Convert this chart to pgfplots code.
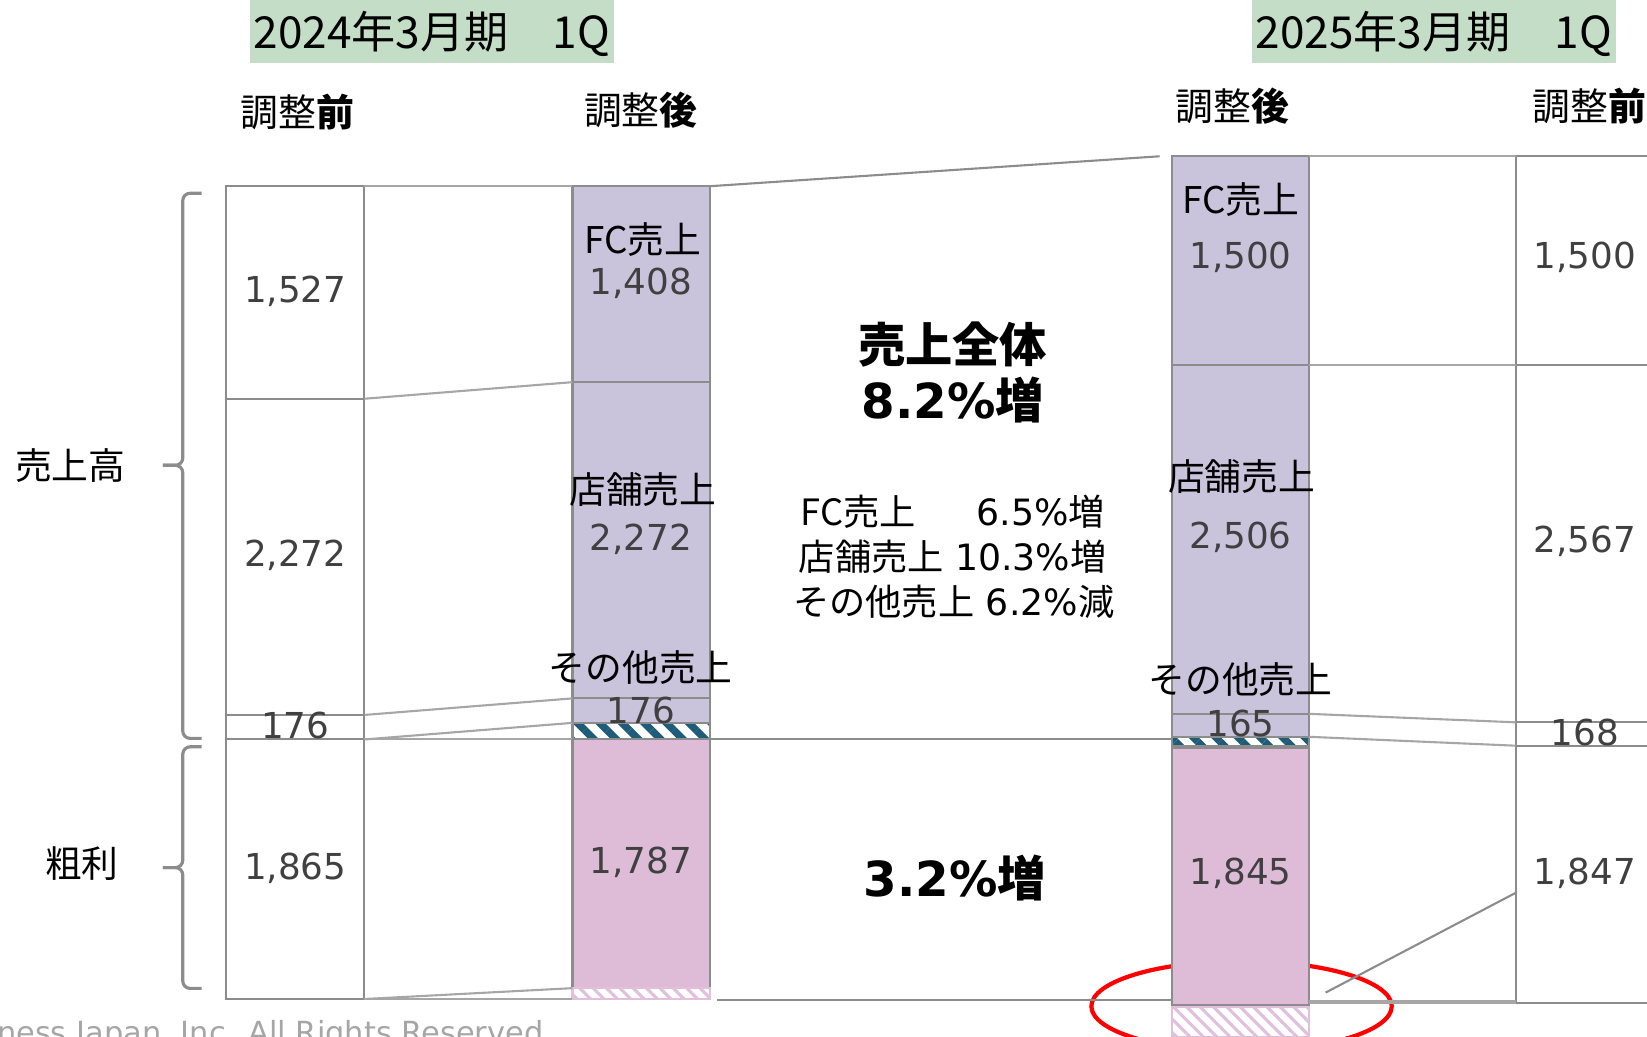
\documentclass[border=0pt]{standalone}
\usepackage{pgfplots}
\pgfplotsset{compat=1.18}
\usetikzlibrary{patterns.meta}
\usepackage{fontspec}
\setmainfont{DejaVu Sans}
\newfontfamily\jp{Noto Sans CJK JP}
\definecolor{lav}{HTML}{C9C3DB}
\definecolor{pnk}{HTML}{DEBCD7}
\definecolor{hdr}{HTML}{C4DDC6}
\definecolor{bord}{HTML}{8C8C8C}
\definecolor{conn}{HTML}{A6A6A6}
\definecolor{numc}{HTML}{404040}
\definecolor{hblue}{HTML}{1F5C7A}
\definecolor{hpink}{HTML}{E0C0DA}

% y axis: 0 = bottom edge of the picture; the sales/gross-profit baseline of 2024 lies at 2136
\pgfplotsset{
  base/.style={scale only axis, width=1568pt, height=987pt, xmin=0, xmax=1568,
    ymin=0, ymax=7449, hide axis, at={(0pt,0pt)}, anchor=south west, clip=true},
  layer/.style={base, ybar stacked, bar width=131},
  seg/.style={draw=bord, line width=2pt, fill=#1},
  nobar/.style={draw=none, fill=none},
  hb/.style={draw=bord, line width=2pt, pattern={Lines[angle=-45,distance=15pt,line width=7pt]}, pattern color=hblue},
  hp/.style={draw=hpink, line width=2pt, pattern={Lines[angle=-45,distance=9pt,line width=3pt]}, pattern color=hpink},
  cn/.style={conn, line width=2pt},
}
\newcommand\num[1]{{\fontsize{34}{40}\selectfont\color{numc}#1}}
\newcommand\lbl[1]{{\jp\fontsize{35}{40}\selectfont #1}}

\begin{document}
\begin{tikzpicture}
\useasboundingbox (0,0) rectangle (1568pt,987pt);
\clip (0,0) rectangle (1568pt,987pt);

\begin{scope}[x=1pt,y=-1pt,shift={(0pt,987pt)}]
\draw[red, line width=4pt] (1182,958) ellipse [x radius=143, y radius=43];
\end{scope}

% 2024 before adjustment (gross profit 1865, then sales 176 / 2272 / 1527)
\begin{axis}[layer]
\addplot[nobar] coordinates {(281,271)};
\addplot[seg=white] coordinates {(281,1865)};
\addplot[seg=white] coordinates {(281,176)};
\addplot[seg=white] coordinates {(281,2272)};
\addplot[seg=white] coordinates {(281,1527)};
\end{axis}

% 2024 after adjustment
\begin{axis}[layer]
\addplot[nobar] coordinates {(610.5,271)};
\addplot[hp] coordinates {(610.5,78)};
\addplot[seg=pnk] coordinates {(610.5,1787)};
\addplot[hb] coordinates {(610.5,119)};
\addplot[seg=lav] coordinates {(610.5,176)};
\addplot[seg=lav] coordinates {(610.5,2272)};
\addplot[seg=lav] coordinates {(610.5,1408)};
\end{axis}

% 2025 after adjustment
\begin{axis}[layer]
\addplot[hp] coordinates {(1181,211)};
\addplot[nobar] coordinates {(1181,20)};
\addplot[seg=pnk] coordinates {(1181,1845)};
\addplot[nobar] coordinates {(1181,15)};
\addplot[hb] coordinates {(1181,64)};
\addplot[seg=lav] coordinates {(1181,165)};
\addplot[seg=lav] coordinates {(1181,2506)};
\addplot[seg=lav] coordinates {(1181,1500)};
\end{axis}

% 2025 before adjustment
\begin{axis}[layer]
\addplot[nobar] coordinates {(1509,244)};
\addplot[seg=white] coordinates {(1509,1847)};
\addplot[seg=white] coordinates {(1509,168)};
\addplot[seg=white] coordinates {(1509,2567)};
\addplot[seg=white] coordinates {(1509,1500)};
\end{axis}

% connectors
\begin{axis}[base]
\addplot[cn] coordinates {(347,6111) (545,6111)};
\addplot[cn] coordinates {(347,4584) (545,4703)};
\addplot[cn] coordinates {(347,2312) (545,2431)};
\addplot[cn] coordinates {(347,2136) (545,2255)};
\addplot[cn] coordinates {(347,2136) (545,2136)};
\addplot[cn, color=bord] coordinates {(676,6111) (1104,6326)};
\addplot[cn, color=bord] coordinates {(676,2136) (1116,2136)};
\addplot[cn] coordinates {(1246,6326) (1443,6326)};
\addplot[cn] coordinates {(1246,4826) (1443,4826)};
\addplot[cn] coordinates {(1246,2320) (1443,2259)};
\addplot[cn] coordinates {(1246,2155) (1443,2091)};
\addplot[cn] coordinates {(347,271) (545,349)};
\addplot[cn] coordinates {(347,271) (545,271)};
\addplot[cn, color=bord] coordinates {(683,264) (1116,264)};
\addplot[cn] coordinates {(1246,257) (1443,257)};
\addplot[cn] coordinates {(1246,242) (1443,242)};
\addplot[cn, color=bord] coordinates {(1262,317) (1443,1034)};
\end{axis}

\begin{scope}[x=1pt,y=-1pt,shift={(0pt,987pt)}]
% headers
\fill[hdr] (238,0) rectangle (585,60);
\fill[hdr] (1192,0) rectangle (1538,60);
\node[inner sep=0] at (411,32) {\jp\fontsize{42}{46}\selectfont 2024年3月期　1Q};
\node[inner sep=0] at (1365,32) {\jp\fontsize{42}{46}\selectfont 2025年3月期　1Q};
\node[inner sep=0] at (283,107) {\jp\fontsize{36}{40}\selectfont 調整{\bfseries 前}};
\node[inner sep=0] at (610,105) {\jp\fontsize{36}{40}\selectfont 調整{\bfseries 後}};
\node[inner sep=0] at (1173,101) {\jp\fontsize{36}{40}\selectfont 調整{\bfseries 後}};
\node[inner sep=0] at (1513,101) {\jp\fontsize{36}{40}\selectfont 調整{\bfseries 前}};
% numbers
\node[inner sep=0] at (281,277) {\num{1,527}};
\node[inner sep=0] at (281,529) {\num{2,272}};
\node[inner sep=0] at (281,691) {\num{176}};
\node[inner sep=0] at (281,827) {\num{1,865}};
\node[inner sep=0] at (610,270) {\num{1,408}};
\node[inner sep=0] at (610,513) {\num{2,272}};
\node[inner sep=0] at (610,676) {\num{176}};
\node[inner sep=0] at (610,821) {\num{1,787}};
\node[inner sep=0] at (1181,245) {\num{1,500}};
\node[inner sep=0] at (1181,512) {\num{2,506}};
\node[inner sep=0] at (1181,689) {\num{165}};
\node[inner sep=0] at (1181,831) {\num{1,845}};
\node[inner sep=0] at (1509,245) {\num{1,500}};
\node[inner sep=0] at (1509,515) {\num{2,567}};
\node[inner sep=0] at (1509,697) {\num{168}};
\node[inner sep=0] at (1509,831) {\num{1,847}};
% segment labels
\node[inner sep=0] at (612,228) {\lbl{FC売上}};
\node[inner sep=0] at (612,466) {\lbl{店舗売上}};
\node[inner sep=0] at (610,636) {\lbl{その他売上}};
\node[inner sep=0] at (1181,190) {\lbl{FC売上}};
\node[inner sep=0] at (1182,454) {\lbl{店舗売上}};
\node[inner sep=0] at (1181,647) {\lbl{その他売上}};
% centre texts
\node[inner sep=0] at (907,328) {\jp\bfseries\fontsize{45}{50}\selectfont 売上全体};
\node[inner sep=0] at (907,381) {\bfseries\fontsize{46}{50}\selectfont 8.2\%{\jp 増}};
\node[inner sep=0] at (907,487) {\fontsize{34.5}{38}\selectfont{\jp FC売上}\hspace{58pt}6.5\%{\jp 増}};
\node[inner sep=0] at (907,530) {\fontsize{34.5}{38}\selectfont{\jp 店舗売上} 10.3\%{\jp 増}};
\node[inner sep=0] at (908,573) {\fontsize{34.5}{38}\selectfont{\jp その他売上} 6.2\%{\jp 減}};
\node[inner sep=0] at (909,836) {\bfseries\fontsize{46}{50}\selectfont 3.2\%{\jp 増}};
% left labels and braces
\node[inner sep=0] at (67,443) {\lbl{売上高}};
\node[inner sep=0] at (78,822) {\lbl{粗利}};
\draw[bord, line width=3pt, rounded corners=7pt] (192,184) -- (174,184) -- (174,443) -- (155,443);
\draw[bord, line width=3pt, rounded corners=7pt] (155,443) -- (174,443) -- (174,703) -- (192,703);
\draw[bord, line width=3pt, rounded corners=7pt] (192,711) -- (174,711) -- (174,826) -- (155,826);
\draw[bord, line width=3pt, rounded corners=7pt] (155,826) -- (174,826) -- (174,941) -- (192,941);
% footer
\node[inner sep=0, anchor=base west, text=conn] at (-3,993) {\fontsize{29}{32}\selectfont ness Japan, Inc. All Rights Reserved};
\end{scope}
\end{tikzpicture}
\end{document}
